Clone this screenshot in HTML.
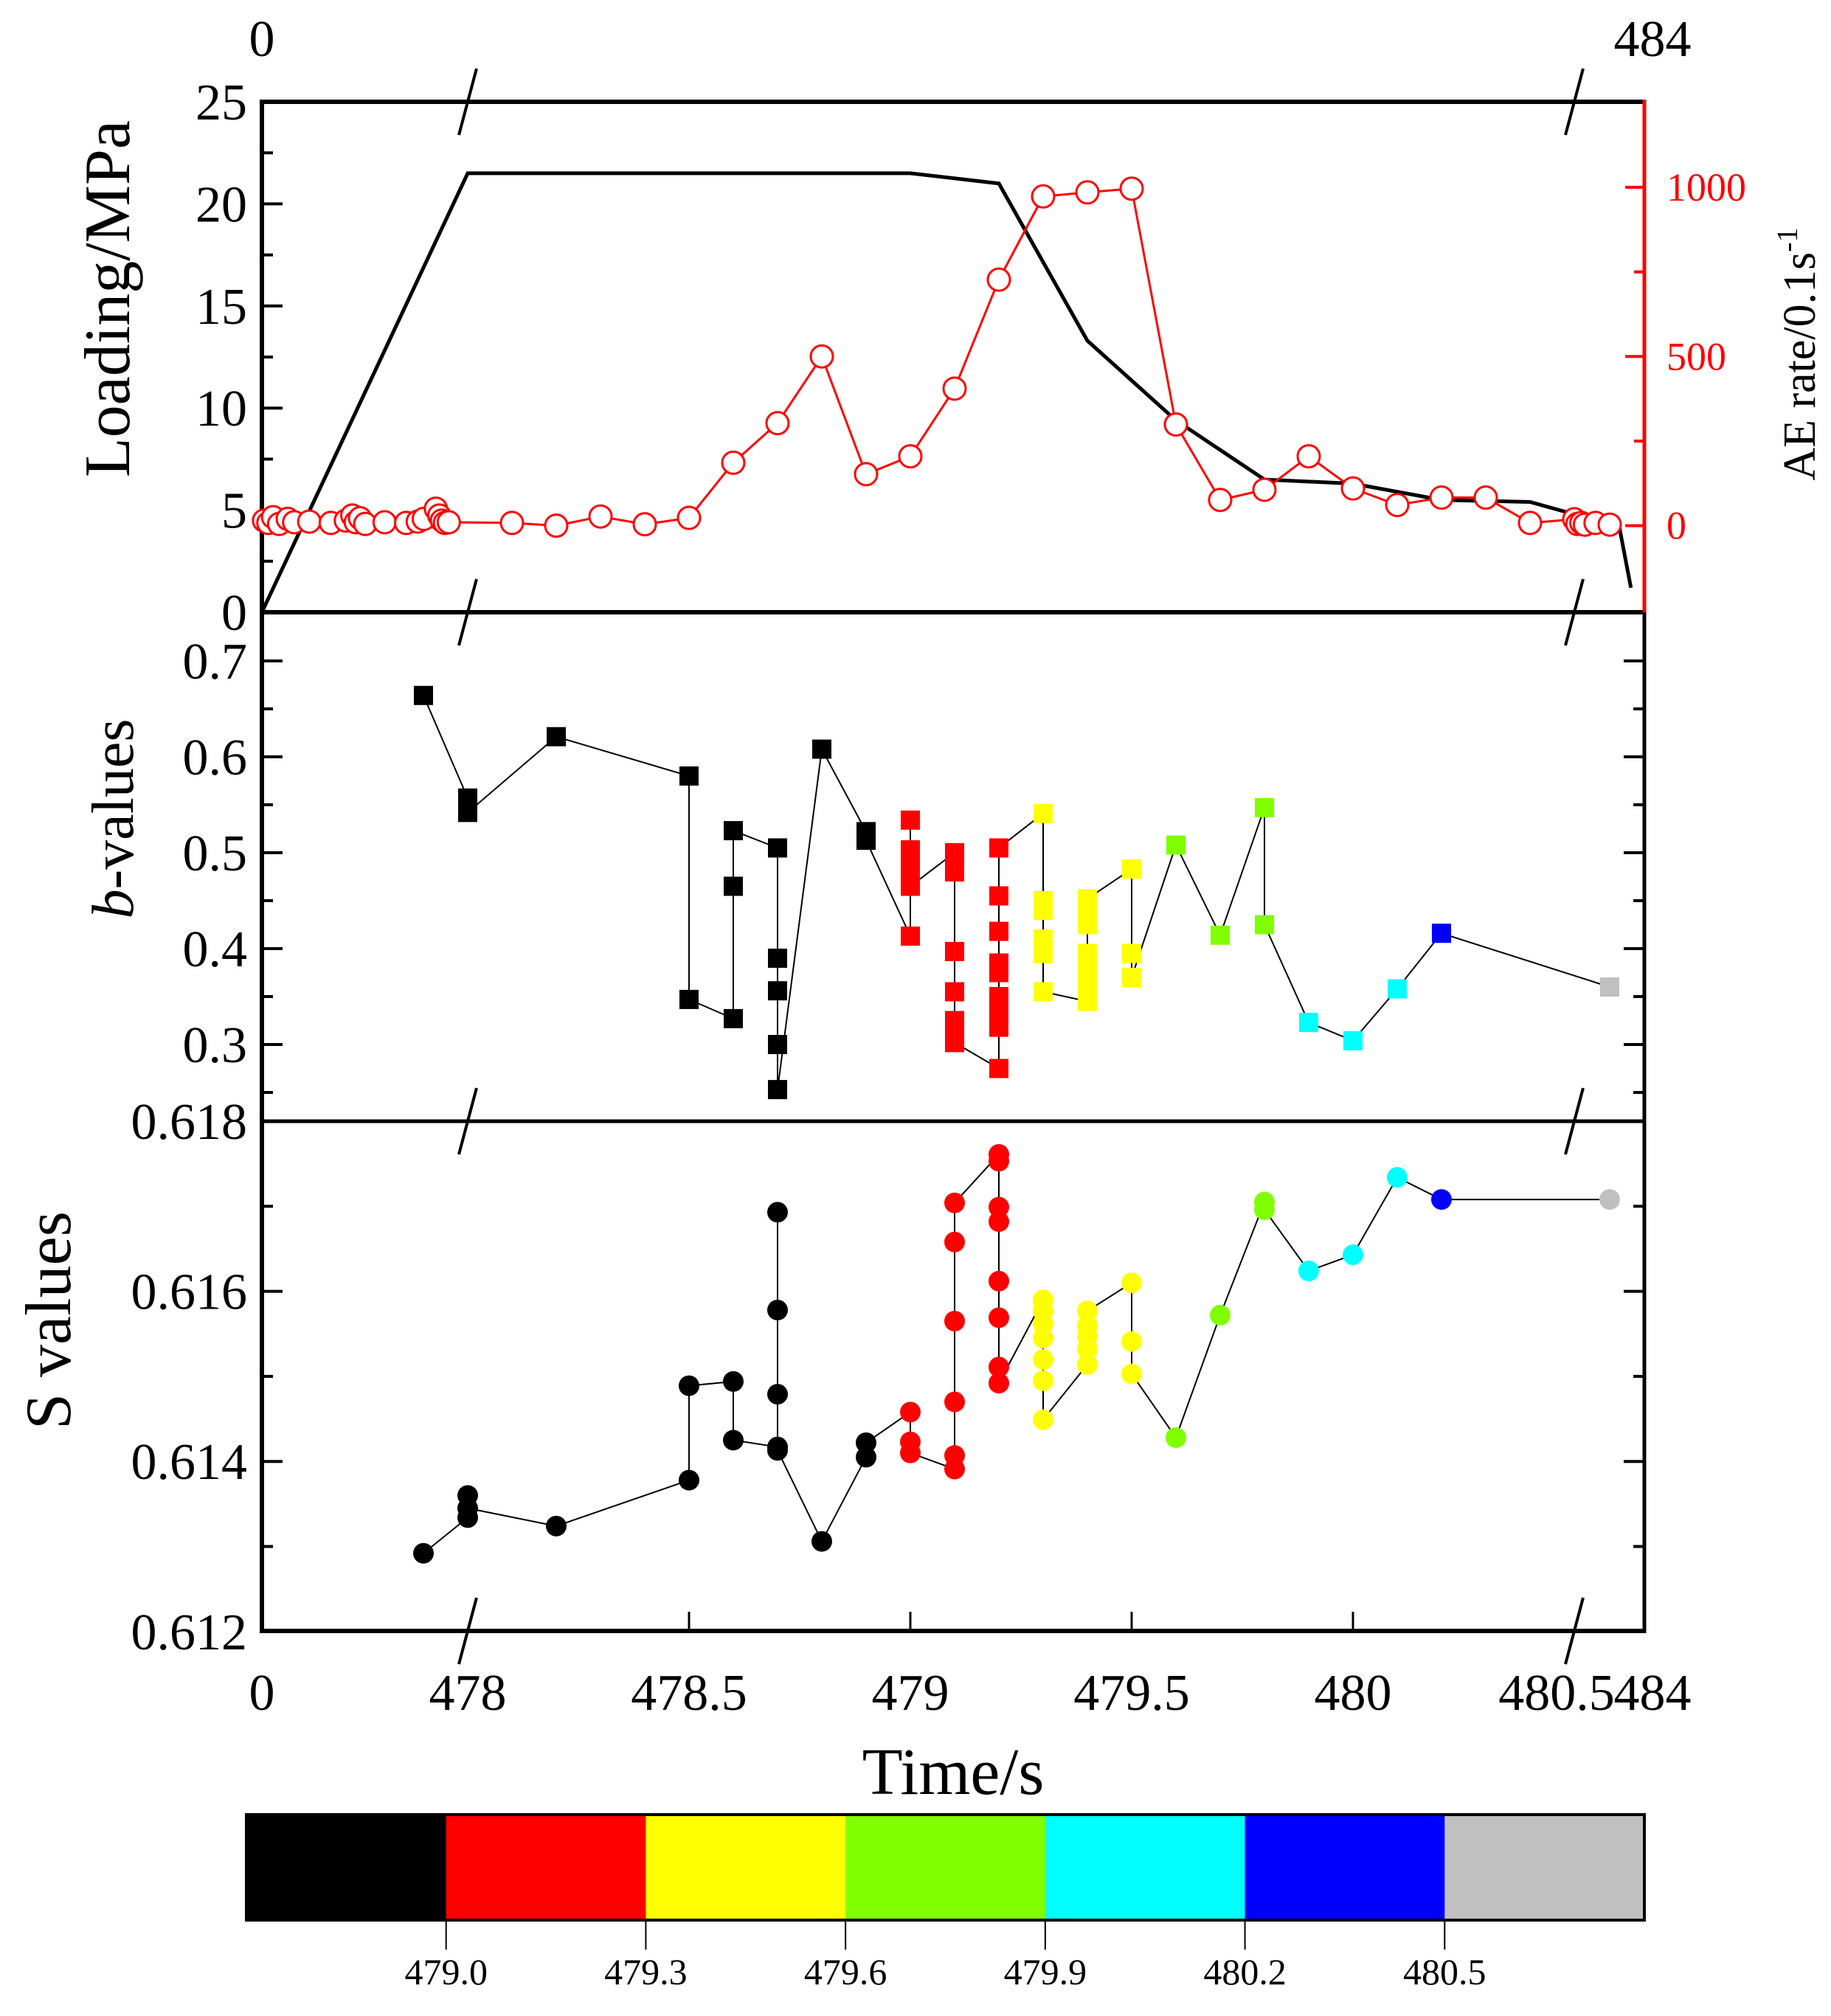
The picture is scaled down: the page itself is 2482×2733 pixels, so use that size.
<!DOCTYPE html>
<html><head><meta charset="utf-8"><style>
html,body{margin:0;padding:0;background:#fff}
svg{display:block}
text{font-family:"Liberation Serif",serif}
</style></head><body>
<svg id="chart" width="2482" height="2733" viewBox="0 0 2482 2733" xmlns="http://www.w3.org/2000/svg"></svg>
<script>
// ---- data ----
const loadT=[0,478,478.5,479,479.2,479.4,479.6,479.8,480,480.2,480.4,480.5,480.598,480.628];
const loadV=[0,21.5,21.5,21.5,21.0,13.3,9.4,6.5,6.3,5.5,5.4,4.8,4.6,1.2];
const aeT=[5,15,26,40,60,75,110,160,195,210,218,228,240,285,335,362,376,404,412,418,425,434,478.1,478.2,478.3,478.4,478.5,478.6,478.7,478.8,478.9,479.0,479.1,479.2,479.3,479.4,479.5,479.6,479.7,479.8,479.9,480.0,480.1,480.2,480.3,480.4,480.5,480.507,480.516,480.524,480.548,480.58];
const aeV=[15,8,25,5,20,10,12,8,15,30,10,22,5,10,8,12,20,50,30,15,8,10,8,0,27,4,23,186,303,500,152,205,405,727,973,985,996,299,76,106,205,110,61,83,83,8,19,5,8,3,8,3];
const bT=[477.9,478.0,478.0,478.0,478.2,478.5,478.5,478.6,478.6,478.6,478.7,478.7,478.7,478.7,478.7,478.8,478.9,478.9,
479.0,479.0,479.0,479.0,479.0,479.0,479.1,479.1,479.1,479.1,479.1,479.1,479.1,479.1,
479.2,479.2,479.2,479.2,479.2,479.2,479.2,479.2,479.2,
479.3,479.3,479.3,479.3,479.3,479.3,479.4,479.4,479.4,479.4,479.4,479.4,479.4,479.5,479.5,479.5,
479.6,479.7,479.8,479.8,479.9,480.0,480.1,480.2,480.58];
const bV=[0.664,0.557,0.549,0.542,0.621,0.580,0.347,0.327,0.465,0.523,0.505,0.390,0.356,0.300,0.253,0.608,0.522,0.513,
0.413,0.534,0.503,0.490,0.475,0.465,0.500,0.493,0.480,0.397,0.355,0.325,0.312,0.302,
0.275,0.318,0.335,0.350,0.375,0.385,0.418,0.455,0.505,
0.541,0.450,0.440,0.410,0.395,0.355,0.345,0.360,0.375,0.395,0.425,0.435,0.452,0.483,0.395,0.370,
0.508,0.414,0.547,0.425,0.323,0.304,0.358,0.416,0.360];
const sT=[477.9,478.0,478.0,478.0,478.2,478.5,478.5,478.6,478.6,478.7,478.7,478.7,478.7,478.7,478.8,478.9,478.9,
479.0,479.0,479.0,479.1,479.1,479.1,479.1,479.1,479.1,
479.2,479.2,479.2,479.2,479.2,479.2,479.2,479.2,
479.3,479.3,479.3,479.3,479.3,479.3,479.3,479.4,479.4,479.4,479.4,479.4,479.5,479.5,479.5,
479.6,479.7,479.8,479.8,479.9,480.0,480.1,480.2,480.58];
const sV=[0.61292,0.61334,0.61360,0.61345,0.61324,0.61378,0.61489,0.61494,0.61425,0.61417,0.61693,0.61578,0.61479,0.61413,0.61306,0.61405,0.61422,
0.61458,0.61423,0.61410,0.61391,0.61407,0.61470,0.61565,0.61658,0.61704,
0.61761,0.61753,0.61699,0.61682,0.61612,0.61569,0.61511,0.61492,
0.61590,0.61577,0.61562,0.61545,0.61520,0.61495,0.61449,0.61514,0.61532,0.61547,0.61560,0.61577,0.61610,0.61541,0.61503,
0.61428,0.61572,0.61705,0.61696,0.61624,0.61643,0.61734,0.61708,0.61708];
const cbLabels=["479.0","479.3","479.6","479.9","480.2","480.5"];
const cbColors=["#000000","#ff0000","#ffff00","#80ff00","#00ffff","#0000ff","#c0c0c0"];
const bottomTicks=["478","478.5","479","479.5","480","480.5"];
const loadTicks=[0,5,10,15,20,25];
const aeTicks=[0,500,1000];
const bTicks=[0.3,0.4,0.5,0.6,0.7];
const sTicks=[0.612,0.614,0.616,0.618];

// ---- geometry ----
const L=355,R=2229,T1=138,B1=830,B2=1520,B3=2211;
function x(t){ if(t<477.5) return L+t/478*(634-L); if(t<=480.65) return 634+(t-478)*600; return 2224+(t-480.65)/3.35*(R-2224);}
function yLoad(v){return B1-v*(B1-T1)/25;}
function yAE(v){return 712.6-v*0.4587;}
function yB(v){return 896-(v-0.7)*1300;}
function yS(v){return B2+(0.618-v)*115300;}
function colorOf(t){ if(t<478.95) return cbColors[0]; if(t<479.25) return cbColors[1]; if(t<479.55) return cbColors[2]; if(t<479.85) return cbColors[3]; if(t<480.15) return cbColors[4]; if(t<480.4) return cbColors[5]; return cbColors[6];}

const svg=document.getElementById('chart');
const NS='http://www.w3.org/2000/svg';
function el(tag,attrs,parent){const e=document.createElementNS(NS,tag);for(const k in attrs)e.setAttribute(k,attrs[k]);(parent||svg).appendChild(e);return e;}
function txt(s,attrs,parent){const e=el('text',attrs,parent);e.textContent=s;return e;}

// frames
const frame=el('g',{});


el('line',{x1:L,y1:T1,x2:R,y2:T1,stroke:'#000','stroke-width':6},frame);
el('line',{x1:L,y1:B1,x2:R,y2:B1,stroke:'#000','stroke-width':6},frame);
el('line',{x1:L,y1:B2,x2:R,y2:B2,stroke:'#000','stroke-width':5},frame);
el('line',{x1:L,y1:B3,x2:R,y2:B3,stroke:'#000','stroke-width':6},frame);
el('line',{x1:L,y1:T1-3,x2:L,y2:B3+3,stroke:'#000','stroke-width':6},frame);
el('line',{x1:R,y1:B1,x2:R,y2:B3+3,stroke:'#000','stroke-width':5},frame);
el('line',{x1:R,y1:T1-3,x2:R,y2:B1,stroke:'#ff0000','stroke-width':5},frame);
// break marks
[634,2134].forEach(bx=>[T1,B1,B2,B3].forEach(by=>{
  const m=el('line',{x1:bx-12,y1:by+45,x2:bx+12,y2:by-45,stroke:'#000','stroke-width':4});
  
  
}));
// bottom x ticks
[478.5,479,479.5,480].forEach(t=>el('line',{x1:x(t),y1:B3,x2:x(t),y2:B3-26,stroke:'#000','stroke-width':3}));
// x tick labels
const xl=el('g',{'font-size':70,'text-anchor':'middle'});


txt('0',{x:L,y:2318},xl);
bottomTicks.forEach((s,i)=>{const t=parseFloat(s);let px=x(t);if(s==='480.5')px=2110;txt(s,{x:px,y:2318},xl);});
txt('484',{x:2240,y:2318},xl);
txt('0',{x:L,y:76},xl);
txt('484',{x:2240,y:76},xl);
const xt=txt('Time/s',{x:1292,y:2432,'font-size':90,'text-anchor':'middle'});



// left axis ticks/labels: loading
const ly=el('g',{'font-size':70,'text-anchor':'end'});


loadTicks.forEach(v=>{const y=yLoad(v);if(v>0&&v<25)el('line',{x1:L,y1:y,x2:L+28,y2:y,stroke:'#000','stroke-width':4},ly);txt(String(v),{x:L-20,y:y+24},ly);});
for(let v=2.5;v<25;v+=5){const y=yLoad(v);el('line',{x1:L,y1:y,x2:L+15,y2:y,stroke:'#000','stroke-width':4},ly);}
const lt=txt('Loading/MPa',{x:0,y:0,'font-size':88,'text-anchor':'middle',transform:'translate(175,405) rotate(-90)'});


// right AE axis
const ry=el('g',{'font-size':54,fill:'#ff0000'});


aeTicks.forEach(v=>{const y=yAE(v);el('line',{x1:R,y1:y,x2:R-26,y2:y,stroke:'#ff0000','stroke-width':4},ry);txt(String(v),{x:R+30,y:y+18},ry);});
[250,750].forEach(v=>{const y=yAE(v);el('line',{x1:R,y1:y,x2:R-14,y2:y,stroke:'#ff0000','stroke-width':4},ry);});
const at=el('text',{x:0,y:0,'font-size':62,'text-anchor':'middle',transform:'translate(2460,480) rotate(-90)'});


at.innerHTML='AE rate/0.1s<tspan dy="-24" font-size="40">-1</tspan>';

// b axis
const by=el('g',{'font-size':70,'text-anchor':'end'});


bTicks.forEach(v=>{const y=yB(v);el('line',{x1:L,y1:y,x2:L+28,y2:y,stroke:'#000','stroke-width':4},by);el('line',{x1:R,y1:y,x2:R-28,y2:y,stroke:'#000','stroke-width':4},by);txt(v.toFixed(1),{x:L-20,y:y+24},by);});
[0.25,0.35,0.45,0.55,0.65,0.75].forEach(v=>{const y=yB(v);if(y<B1+5)return;el('line',{x1:L,y1:y,x2:L+15,y2:y,stroke:'#000','stroke-width':4},by);el('line',{x1:R,y1:y,x2:R-15,y2:y,stroke:'#000','stroke-width':4},by);});
const bt=el('text',{x:0,y:0,'font-size':80,'text-anchor':'middle',transform:'translate(180,1110) rotate(-90)'});


bt.innerHTML='<tspan font-style="italic">b</tspan>-values';
// S axis
const sy=el('g',{'font-size':70,'text-anchor':'end'});


sTicks.forEach(v=>{const y=yS(v);if(v>0.612&&v<0.618){el('line',{x1:L,y1:y,x2:L+28,y2:y,stroke:'#000','stroke-width':4},sy);el('line',{x1:R,y1:y,x2:R-28,y2:y,stroke:'#000','stroke-width':4},sy);}txt(v.toFixed(3),{x:L-20,y:y+24},sy);});
[0.613,0.615,0.617].forEach(v=>{const y=yS(v);el('line',{x1:L,y1:y,x2:L+15,y2:y,stroke:'#000','stroke-width':4},sy);el('line',{x1:R,y1:y,x2:R-15,y2:y,stroke:'#000','stroke-width':4},sy);});
const st=txt('S values',{x:0,y:0,'font-size':88,'text-anchor':'middle',transform:'translate(95,1790) rotate(-90)'});



// loading line
const lp=el('polyline',{points:loadT.map((t,i)=>x(t)+','+yLoad(loadV[i])).join(' '),fill:'none',stroke:'#000','stroke-width':5});


// AE series
const ap=el('polyline',{points:aeT.map((t,i)=>x(t)+','+yAE(aeV[i])).join(' '),fill:'none',stroke:'#ff0000','stroke-width':3});


aeT.forEach((t,i)=>{
  const c=el('circle',{cx:x(t),cy:yAE(aeV[i]),r:15,fill:'#fff',stroke:'#ff0000','stroke-width':3});
  
  
});
// b series
const bp=el('polyline',{points:bT.map((t,i)=>x(t)+','+yB(bV[i])).join(' '),fill:'none',stroke:'#000','stroke-width':2});


bT.forEach((t,i)=>{
  const r=el('rect',{x:x(t)-13,y:yB(bV[i])-13,width:26,height:26,fill:colorOf(t)});
  
  
});
// S series
const sp=el('polyline',{points:sT.map((t,i)=>x(t)+','+yS(sV[i])).join(' '),fill:'none',stroke:'#000','stroke-width':2});


sT.forEach((t,i)=>{
  const c=el('circle',{cx:x(t),cy:yS(sV[i]),r:14,fill:colorOf(t)});
  
  
});

// colorbar
const cb=el('g',{});


const cbL=334,cbR=2229,cbT=2460,cbB=2603,w=(cbR-cbL)/cbColors.length;
cbColors.forEach((c,i)=>{
  const r=el('rect',{x:cbL+i*w,y:cbT,width:w+0.5,height:cbB-cbT,fill:c},cb);
  
  
});
el('rect',{x:cbL,y:cbT,width:cbR-cbL,height:cbB-cbT,fill:'none',stroke:'#000','stroke-width':4},cb);
cbLabels.forEach((s,i)=>{const px=cbL+(i+1)*w;el('line',{x1:px,y1:cbB,x2:px,y2:cbB+40,stroke:'#000','stroke-width':2},cb);txt(s,{x:px,y:2690,'font-size':50,'text-anchor':'middle'},cb);});
</script>
</body></html>
